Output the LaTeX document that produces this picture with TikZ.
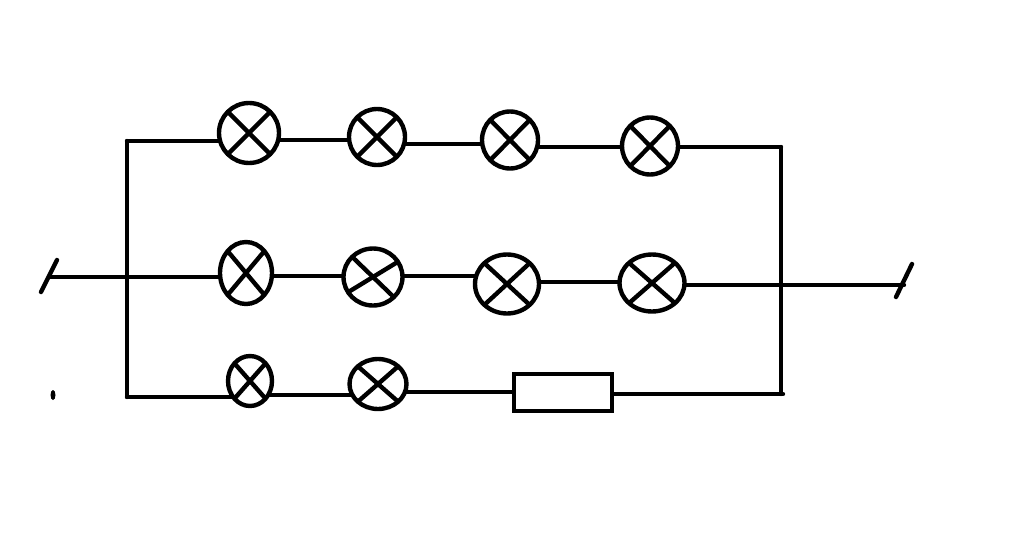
\documentclass[tikz,border=0pt]{standalone}
\usetikzlibrary{shapes.geometric,backgrounds}

\tikzset{
  wire/.style={black, line width=2.5pt, line cap=round},
  lamp/.style={draw=black, line width=2.5pt, ellipse, inner sep=0pt, fill=white,
    path picture={
      \draw [wire] (path picture bounding box.north west) -- (path picture bounding box.south east);
      \draw [wire] (path picture bounding box.north east) -- (path picture bounding box.south west);
    }},
  lampflat/.style={draw=black, line width=2.5pt, ellipse, inner sep=0pt, fill=white,
    path picture={
      \draw [wire] (path picture bounding box.north west) -- (path picture bounding box.south east);
      \draw [wire] ([yshift=-0.36cm]path picture bounding box.west) -- ([yshift=0.36cm]path picture bounding box.east);
    }},
  res/.style={draw=black, line width=2.5pt, rectangle, inner sep=0pt, fill=white,
    minimum width=1.96cm, minimum height=0.74cm},
}

\begin{document}
\begin{tikzpicture}[x=0.02cm, y=-0.02cm]
        \useasboundingbox (0,0) rectangle (1024,558);

        \coordinate (tl) at (127,141);
        \coordinate (bl) at (127,397);
        \coordinate (tr) at (781,147);
        \coordinate (br) at (783,394);
        \coordinate (inn) at (49,277);
        \coordinate (inna) at (41,292);
        \coordinate (innb) at (57,260);
        \coordinate (out) at (904,285);
        \coordinate (outa) at (896,297);
        \coordinate (outb) at (912,264);

        % wire heights between the lamps
        \coordinate (t12) at (0,140);
        \coordinate (t23) at (0,144);
        \coordinate (t34) at (0,147);
        \coordinate (m12) at (0,276);
        \coordinate (m23) at (0,276);
        \coordinate (m34) at (0,282);
        \coordinate (b12) at (0,395);
        \coordinate (b23) at (0,392);

        % top row
        \node [lamp, minimum width=1.2cm, minimum height=1.2cm] (t1) at (249,133) {};
        \node [lamp, minimum width=1.12cm, minimum height=1.12cm] (t2) at (377,137) {};
        \node [lamp, minimum width=1.12cm, minimum height=1.14cm] (t3) at (510,140) {};
        \node [lamp, minimum width=1.12cm, minimum height=1.14cm] (t4) at (650,146) {};

        % middle row
        \node [lamp, minimum width=1.04cm, minimum height=1.24cm] (m1) at (246,273) {};
        \node [lampflat, minimum width=1.18cm, minimum height=1.14cm] (m2) at (373,277) {};
        \node [lamp, minimum width=1.28cm, minimum height=1.18cm] (m3) at (507,284) {};
        \node [lamp, minimum width=1.3cm, minimum height=1.14cm] (m4) at (652,283) {};

        % bottom row
        \node [lamp, minimum width=0.88cm, minimum height=1.0cm] (b1) at (250,381) {};
        \node [lamp, minimum width=1.14cm, minimum height=1.0cm] (b2) at (378,384) {};
        \node [res] (r) at (563,392.5) {};

        \node [fill=black, ellipse, inner sep=0pt, minimum width=0.1cm, minimum height=0.2cm] (dot) at (53,395) {};

        \begin{scope}[on background layer]
        \draw [wire] (tl) -- (bl);
        \draw [wire] (tr) -- (781,394);
        \draw [wire] (inna) -- (innb);
        \draw [wire] (outa) -- (outb);

        \draw [wire] (tl) -- (tl -| t1);
        \draw [wire] (t1 |- t12) -- (t2 |- t12);
        \draw [wire] (t2 |- t23) -- (t3 |- t23);
        \draw [wire] (t3 |- t34) -- (t4 |- t34);
        \draw [wire] (t4 |- tr) -- (tr);

        \draw [wire] (inn) -- (inn -| m1);
        \draw [wire] (m1 |- m12) -- (m2 |- m12);
        \draw [wire] (m2 |- m23) -- (m3 |- m23);
        \draw [wire] (m3 |- m34) -- (m4 |- m34);
        \draw [wire] (m4 |- out) -- (out);

        \draw [wire] (bl) -- (bl -| b1);
        \draw [wire] (b1 |- b12) -- (b2 |- b12);
        \draw [wire] (b2 |- b23) -- (r.west |- b23);
        \draw [wire] (r.east |- br) -- (br);
        \end{scope}
    \end{tikzpicture}
\end{document}
